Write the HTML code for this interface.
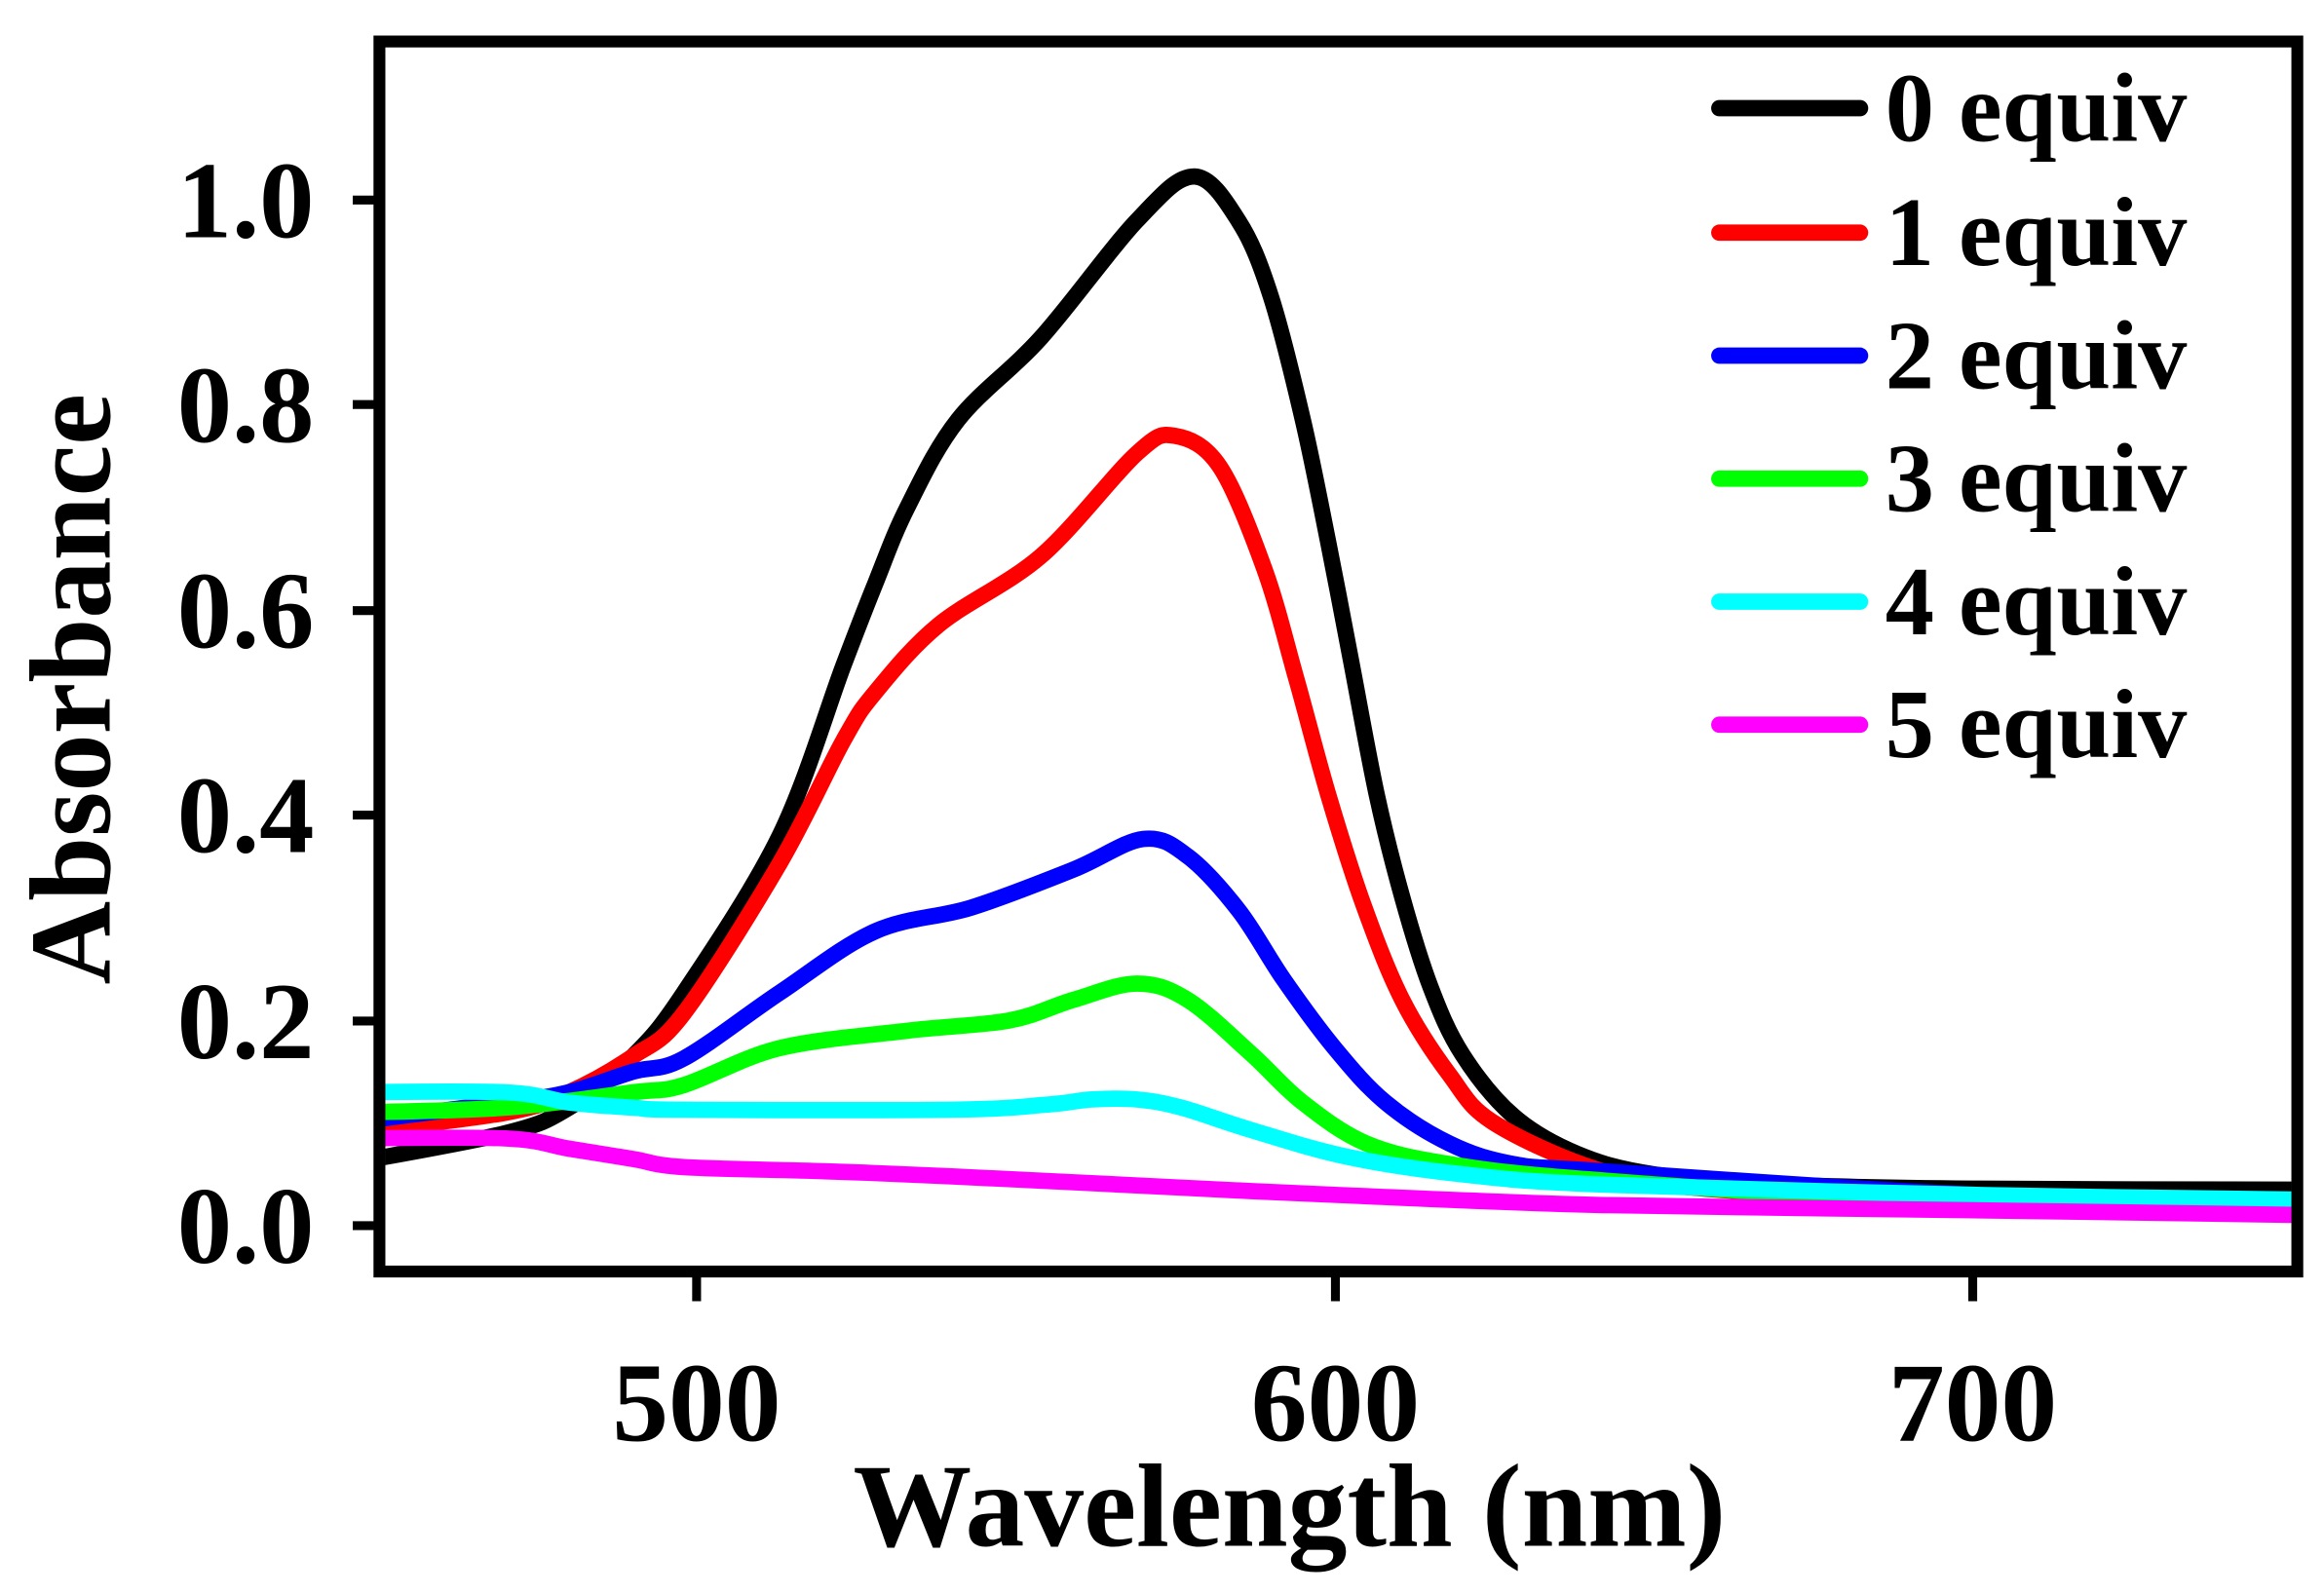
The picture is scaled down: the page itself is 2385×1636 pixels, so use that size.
<!DOCTYPE html>
<html><head><meta charset="utf-8">
<style>
html,body{margin:0;padding:0;background:#fff;}
svg{display:block;}
text{font-family:"Liberation Serif",serif;font-weight:bold;fill:#000;}
</style></head>
<body>
<svg id="s" width="2385" height="1636" viewBox="0 0 1568 1075.6" preserveAspectRatio="none" xmlns="http://www.w3.org/2000/svg">
<defs><clipPath id="c"><rect x="260" y="32" width="1286" height="822"/></clipPath></defs>
<g id="curves" clip-path="url(#c)" fill="none" stroke-width="11" stroke-linejoin="round" stroke-linecap="round"></g>
<rect x="256" y="28" width="1294" height="830" fill="none" stroke="#000" stroke-width="8"/>
<g stroke="#000" stroke-width="6">
<line x1="238" y1="827" x2="256" y2="827"/><line x1="238" y1="689" x2="256" y2="689"/>
<line x1="238" y1="550" x2="256" y2="550"/><line x1="238" y1="412" x2="256" y2="412"/>
<line x1="238" y1="273" x2="256" y2="273"/><line x1="238" y1="135" x2="256" y2="135"/>
<line x1="470" y1="858" x2="470" y2="878"/><line x1="901" y1="858" x2="901" y2="878"/><line x1="1331" y1="858" x2="1331" y2="878"/>
</g>
<g font-size="74" text-anchor="end">
<text x="212" y="852">0.0</text><text x="212" y="714">0.2</text><text x="212" y="575">0.4</text>
<text x="212" y="437">0.6</text><text x="212" y="298">0.8</text><text x="212" y="160">1.0</text>
</g>
<g font-size="76" text-anchor="middle">
<text x="470" y="972">500</text><text x="901" y="972">600</text><text x="1331" y="972">700</text>
</g>
<text x="870" y="1043" font-size="80" text-anchor="middle">Wavelength (nm)</text>
<text transform="translate(74,465) rotate(-90)" font-size="78" text-anchor="middle">Absorbance</text>
<g stroke-width="11" stroke-linecap="round">
<line x1="1160" y1="73" x2="1255" y2="73" stroke="#000"/>
<line x1="1160" y1="157" x2="1255" y2="157" stroke="#ff0000"/>
<line x1="1160" y1="240" x2="1255" y2="240" stroke="#0000ff"/>
<line x1="1160" y1="323" x2="1255" y2="323" stroke="#00ff00"/>
<line x1="1160" y1="406" x2="1255" y2="406" stroke="#00ffff"/>
<line x1="1160" y1="489" x2="1255" y2="489" stroke="#ff00ff"/>
</g>
<g font-size="66">
<text x="1272" y="95">0 equiv</text><text x="1272" y="179">1 equiv</text><text x="1272" y="262">2 equiv</text>
<text x="1272" y="345">3 equiv</text><text x="1272" y="428">4 equiv</text><text x="1272" y="511">5 equiv</text>
</g>
</svg>
<script>
var D={
"#ff00ff":[[445,.085],[470,.085],[480,.075],[490,.065],[498,.057],[520,.053],[540,.048],[576,.037],[600,.03],[642,.02],[700,.015],[755,.01]],
"#00ffff":[[445,.13],[470,.13],[480,.12],[490,.115],[498,.113],[540,.113],[555,.118],[562,.123],[569,.123],[576,.115],[587,.093],[602,.067],[620,.05],[642,.04],[700,.03],[755,.025]],
"#00ff00":[[445,.11],[470,.115],[490,.13],[498,.137],[513,.173],[533,.19],[549,.2],[559,.22],[569,.236],[577,.22],[587,.167],[595,.12],[605,.08],[618,.06],[640,.045],[700,.02],[755,.01]],
"#0000ff":[[445,.1],[470,.12],[480,.13],[490,.15],[498,.163],[513,.227],[528,.287],[543,.31],[559,.347],[570,.377],[577,.36],[585,.307],[592,.24],[600,.173],[608,.12],[618,.08],[628,.06],[642,.053],[700,.03],[755,.02]],
"#ff0000":[[445,.09],[470,.11],[480,.13],[490,.165],[498,.207],[513,.353],[523,.473],[528,.52],[538,.586],[554,.653],[569,.753],[575,.77],[582,.74],[589,.64],[594,.533],[599,.42],[604.5,.313],[610.6,.22],[618,.147],[625,.1],[642,.053],[660,.035],[700,.025],[755,.018]],
"#000000":[[445,.06],[470,.09],[480,.115],[490,.165],[498,.227],[513,.38],[523,.546],[528,.626],[533,.70],[541,.786],[554,.866],[569,.98],[578,1.023],[585,.979],[590,.906],[595,.786],[599,.666],[602.5,.553],[606.6,.42],[610.6,.32],[615,.233],[620,.167],[628,.107],[638,.07],[650,.05],[670,.04],[700,.036],[755,.035]]};
var g=document.getElementById("curves");
var order=["#000000","#ff0000","#0000ff","#00ff00","#00ffff","#ff00ff"];
order.forEach(function(c){
 var p=D[c].map(function(d){return [470+(d[0]-500)*4.305,827-d[1]*692];});
 var s="M"+p[0][0]+","+p[0][1];
 for(var i=0;i<p.length-1;i++){
  var p0=p[Math.max(i-1,0)],p1=p[i],p2=p[i+1],p3=p[Math.min(i+2,p.length-1)];
  var c1x=p1[0]+(p2[0]-p0[0])/6,c1y=p1[1]+(p2[1]-p0[1])/6,c2x=p2[0]-(p3[0]-p1[0])/6,c2y=p2[1]-(p3[1]-p1[1])/6;
  s+=" C"+c1x+","+c1y+" "+c2x+","+c2y+" "+p2[0]+","+p2[1];
 }
 var e=document.createElementNS("http://www.w3.org/2000/svg","path");
 e.setAttribute("d",s);e.setAttribute("stroke",c);g.appendChild(e);
});
</script>
</body></html>
